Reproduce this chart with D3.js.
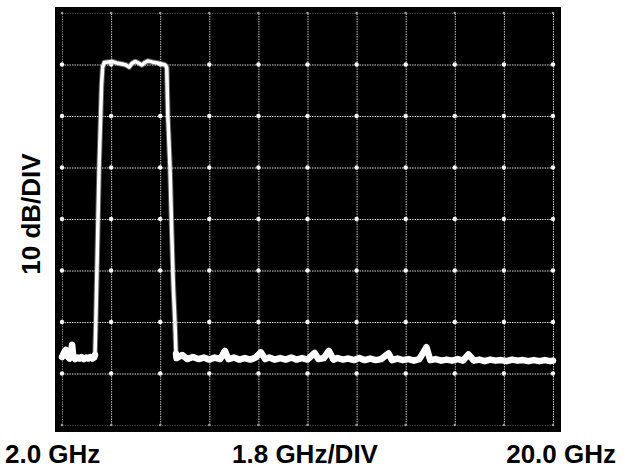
<!DOCTYPE html>
<html>
<head>
<meta charset="utf-8">
<script src="https://cdn.jsdelivr.net/npm/d3@7"></script>
<style>
  html, body { margin: 0; padding: 0; background: #fff; }
  svg { display: block; }
  text { font-family: "Liberation Sans", Arial, sans-serif; font-weight: bold; fill: #000; }
</style>
</head>
<body>
<svg id="chart" width="625" height="472"></svg>
<script>
// ---- data ----
const gridFreqGHz = [2.0, 3.8, 5.6, 7.4, 9.2, 11.0, 12.8, 14.6, 16.4, 18.2, 20.0];
const gridLevelDb = [0, -10, -20, -30, -40, -50, -60, -70, -80];
const labelStart = "2.0 GHz";
const labelSpan = "1.8 GHz/DIV";
const labelStop = "20.0 GHz";
const labelY = "10 dB/DIV";

const freqGHz = [
  2.00, 2.08, 2.14, 2.20, 2.28, 2.33, 2.37, 2.41, 2.48, 2.56, 2.64, 2.72, 2.80, 2.88, 2.96, 3.04, 3.12, 3.18,
  3.21, 3.24, 3.36, 3.45, 3.49,
  3.55, 3.70, 3.83, 4.00, 4.20, 4.35, 4.46, 4.56, 4.68, 4.80, 4.93, 5.04, 5.15, 5.30, 5.50, 5.65, 5.78, 5.84,
  5.88, 5.96, 6.02, 6.08, 6.14, 6.18,
  6.2, 6.4, 6.6, 6.8, 7.0, 7.2, 7.4, 7.6, 7.8, 7.97, 8.1, 8.3, 8.5, 8.7, 8.9, 9.1, 9.29, 9.45, 9.6, 9.8,
  10.0, 10.2, 10.4, 10.6, 10.8, 11.0, 11.26, 11.4, 11.6, 11.78, 11.95, 12.1, 12.3, 12.5, 12.7, 12.9,
  13.1, 13.3, 13.5, 13.7, 13.97, 14.1, 14.3, 14.5, 14.7, 14.9, 15.1, 15.36, 15.5, 15.7, 15.9,
  16.1, 16.3, 16.5, 16.7, 16.9, 17.1, 17.3, 17.5, 17.7, 17.9, 18.1, 18.3, 18.5, 18.7, 18.9,
  19.1, 19.3, 19.5, 19.7, 19.9, 20.0
];
const levelDb = [
  -66.8, -65.9, -65.4, -66.7, -67.1, -66.2, -64.4, -66.6, -67.2, -66.9, -67.1, -66.8, -67.2, -66.9, -67.1, -66.8, -67.1, -66.9,
  -66.4, -60.0, -30.0, -14.0, -10.5,
  -9.6, -9.5, -9.4, -9.7, -9.9, -10.1, -10.5, -9.8, -9.4, -9.7, -10.1, -9.6, -9.3, -9.5, -9.7, -9.9, -10.1, -10.6,
  -20.0, -30.0, -42.0, -53.0, -60.0, -66.2,
  -67.0, -66.4, -67.2, -66.8, -67.2, -66.9, -67.3, -66.9, -67.2, -65.6, -67.2, -66.9, -67.3, -67.0, -67.3, -66.9, -65.9, -67.2, -66.9, -67.3,
  -67.0, -67.3, -66.9, -67.3, -67.0, -67.3, -66.0, -67.2, -67.0, -65.6, -67.3, -67.0, -67.3, -67.1, -67.4, -67.0,
  -67.4, -67.1, -67.4, -67.2, -66.1, -67.4, -67.1, -67.4, -67.2, -67.5, -67.2, -64.9, -67.4, -67.2, -67.5,
  -67.3, -67.5, -67.2, -67.5, -66.3, -67.5, -67.3, -67.6, -67.3, -67.5, -67.4, -67.6, -67.3, -67.5, -67.4,
  -67.6, -67.4, -67.6, -67.4, -67.6, -67.5
];

// ---- layout ----
const svg = d3.select("#chart");
const screen = { x0: 55, y0: 7, x1: 561, y1: 432 };
const x = d3.scaleLinear().domain([2, 20]).range([62, 553]);
const y = d3.scaleLinear().domain([-80, 0]).range([425, 13]);

svg.append("rect")
  .attr("x", screen.x0).attr("y", screen.y0)
  .attr("width", screen.x1 - screen.x0).attr("height", screen.y1 - screen.y0)
  .attr("fill", "#000");

// grid via axes
const gx = svg.append("g")
  .attr("transform", `translate(0,${y(-80)})`)
  .call(d3.axisBottom(x).tickValues(gridFreqGHz).tickSize(-(y(-80) - y(0))).tickFormat(""));
const gy = svg.append("g")
  .attr("transform", `translate(${x(2)},0)`)
  .call(d3.axisLeft(y).tickValues(gridLevelDb).tickSize(-(x(20) - x(2))).tickFormat(""));
[gx, gy].forEach(g => {
  g.select(".domain").remove();
  g.selectAll(".tick line")
    .attr("stroke-width", 1)
    .attr("stroke-dasharray", "1.5,1");
});
gx.selectAll(".tick line")
  .attr("stroke", (d, i) => (i === 0 ? "#707070" : "#c4c4c4"));
gy.selectAll(".tick line")
  .attr("stroke", d => (d === 0 || d === -80 ? "#404040" : "#d4d4d4"));

// intersection dots
const cross = [];
gridFreqGHz.forEach(f => gridLevelDb.forEach(l => cross.push({ f, l })));
svg.append("g").selectAll("circle").data(cross).join("circle")
  .attr("cx", d => x(d.f)).attr("cy", d => y(d.l))
  .attr("r", d => (d.l === 0 || d.l === -80 ? 1.3 : 2.2))
  .attr("fill", d => (d.l === 0 || d.l === -80 ? "#999" : "#f6f6f6"));

// trace
const pts = freqGHz.map((f, i) => [f, levelDb[i]]);
const line = d3.line().x(d => x(d[0])).y(d => y(d[1]));
const floorLine = d3.line().defined(d => d[1] < -63.5).x(d => x(d[0])).y(d => y(d[1]));
svg.append("path").datum(pts)
  .attr("d", line).attr("fill", "none")
  .attr("stroke", "#bbb").attr("stroke-opacity", 0.5)
  .attr("stroke-width", 5.5).attr("stroke-linejoin", "round");
svg.append("path").datum(pts)
  .attr("d", line).attr("fill", "none")
  .attr("stroke", "#fff").attr("stroke-width", 3.5)
  .attr("stroke-linejoin", "round").attr("stroke-linecap", "round");
svg.append("path").datum(pts)
  .attr("d", floorLine).attr("fill", "none")
  .attr("stroke", "#fff").attr("stroke-width", 6.5)
  .attr("stroke-linejoin", "round").attr("stroke-linecap", "round");

// labels
svg.append("text").attr("x", 5).attr("y", 463).attr("font-size", 26).text(labelStart);
svg.append("text").attr("x", 305).attr("y", 463).attr("font-size", 26).attr("text-anchor", "middle").text(labelSpan);
svg.append("text").attr("x", 616).attr("y", 463).attr("font-size", 26).attr("text-anchor", "end").text(labelStop);
svg.append("text")
  .attr("transform", "translate(40,214) rotate(-90)")
  .attr("font-size", 26).attr("text-anchor", "middle").text(labelY);
</script>
</body>
</html>
